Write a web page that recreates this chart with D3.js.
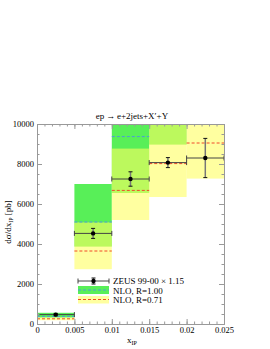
<!DOCTYPE html>
<html>
<head>
<meta charset="utf-8">
<script src="https://cdn.jsdelivr.net/npm/d3@7"></script>
<style>
  body { margin: 0; background: #fff; }
  text { font-family: "Liberation Serif", "DejaVu Serif", serif; }
</style>
</head>
<body>
<div id="chart"></div>
<script>
// ---- data ----
var binLo = [0, 0.005, 0.01, 0.015, 0.02];
var binHi = [0.005, 0.01, 0.015, 0.02, 0.025];

// ZEUS 99-00 x 1.15
var zeusVal = [470, 4530, 7250, 8070, 8300];
var zeusErr = [60, 250, 360, 250, 980];

// NLO R=1.00 (green band, blue line)
var nlo1Val = [380, 5100, 9370, 10600, 11800];
var nlo1Lo = [320, 3870, 6550, 8970, 10300];
var nlo1Hi = [560, 7000, 10800, 12000, 13500];

// NLO R=0.71 (yellow band, red line)
var nlo2Val = [260, 3650, 6680, 8020, 9050];
var nlo2Lo = [190, 2740, 5200, 6350, 7270];
var nlo2Hi = [330, 5080, 8770, 10400, 11200];

var xTicks = [0, 0.005, 0.01, 0.015, 0.02, 0.025];
var xTickLabels = ["0", "0.005", "0.01", "0.015", "0.02", "0.025"];
var yTicks = [0, 2000, 4000, 6000, 8000, 10000];

// ---- layout ----
var W = 270, H = 349;
var margin = {left: 37, right: 46, top: 124, bottom: 25};
var iw = W - margin.left - margin.right;
var ih = H - margin.top - margin.bottom;

var svg = d3.select("#chart").append("svg")
    .attr("width", W)
    .attr("height", H);

var x = d3.scaleLinear().domain([0, 0.025]).range([0, iw]);
var y = d3.scaleLinear().domain([0, 10000]).range([ih, 0]);

var g = svg.append("g")
    .attr("transform", "translate(" + margin.left + "," + margin.top + ")");

g.append("clipPath").attr("id", "clip")
    .append("rect").attr("width", iw).attr("height", ih);

var plot = g.append("g").attr("clip-path", "url(#clip)");

var green = "#58ef58";
var yellow = "#ffff60";
var yOpac = 0.6;

// green bands
plot.selectAll(".gband")
    .data(binLo)
    .enter().append("rect")
    .attr("class", "gband")
    .attr("x", (d, i) => x(binLo[i]))
    .attr("width", (d, i) => x(binHi[i]) - x(binLo[i]))
    .attr("y", (d, i) => y(nlo1Hi[i]))
    .attr("height", (d, i) => y(nlo1Lo[i]) - y(nlo1Hi[i]))
    .style("fill", green);

// yellow bands on top, partly see-through
plot.selectAll(".yband")
    .data(binLo)
    .enter().append("rect")
    .attr("class", "yband")
    .attr("x", (d, i) => x(binLo[i]))
    .attr("width", (d, i) => x(binHi[i]) - x(binLo[i]))
    .attr("y", (d, i) => y(nlo2Hi[i]))
    .attr("height", (d, i) => y(nlo2Lo[i]) - y(nlo2Hi[i]))
    .style("fill", yellow)
    .style("opacity", yOpac);

// central lines
plot.selectAll(".bline")
    .data(binLo)
    .enter().append("line")
    .attr("x1", (d, i) => x(binLo[i]))
    .attr("x2", (d, i) => x(binHi[i]))
    .attr("y1", (d, i) => y(nlo1Val[i]))
    .attr("y2", (d, i) => y(nlo1Val[i]))
    .style("stroke", "#4f9ad8")
    .style("stroke-width", 1)
    .style("stroke-dasharray", "3,2");

plot.selectAll(".rline")
    .data(binLo)
    .enter().append("line")
    .attr("x1", (d, i) => x(binLo[i]))
    .attr("x2", (d, i) => x(binHi[i]))
    .attr("y1", (d, i) => y(nlo2Val[i]))
    .attr("y2", (d, i) => y(nlo2Val[i]))
    .style("stroke", "#f04a2a")
    .style("stroke-width", 1)
    .style("stroke-dasharray", "3,2");

// ZEUS points
var pts = plot.selectAll(".pt")
    .data(zeusVal)
    .enter().append("g")
    .attr("class", "pt");

pts.append("line")
    .attr("x1", (d, i) => x(binLo[i]))
    .attr("x2", (d, i) => x(binHi[i]))
    .attr("y1", d => y(d))
    .attr("y2", d => y(d))
    .style("stroke", "#444")
    .style("stroke-width", 1);

pts.selectAll(".hcap")
    .data((d, i) => [[x(binLo[i]), y(d)], [x(binHi[i]), y(d)]])
    .enter().append("line")
    .attr("x1", d => d[0]).attr("x2", d => d[0])
    .attr("y1", d => d[1] - 2.5).attr("y2", d => d[1] + 2.5)
    .style("stroke", "#444");

pts.append("line")
    .attr("x1", (d, i) => x((binLo[i] + binHi[i]) / 2))
    .attr("x2", (d, i) => x((binLo[i] + binHi[i]) / 2))
    .attr("y1", (d, i) => y(d + zeusErr[i]))
    .attr("y2", (d, i) => y(d - zeusErr[i]))
    .style("stroke", "#777")
    .style("stroke-width", 1.5);

pts.selectAll(".vcap")
    .data((d, i) => [[x((binLo[i] + binHi[i]) / 2), y(d + zeusErr[i])],
                     [x((binLo[i] + binHi[i]) / 2), y(d - zeusErr[i])]])
    .enter().append("line")
    .attr("x1", d => d[0] - 2).attr("x2", d => d[0] + 2)
    .attr("y1", d => d[1]).attr("y2", d => d[1])
    .style("stroke", "#111");

pts.append("circle")
    .attr("cx", (d, i) => x((binLo[i] + binHi[i]) / 2))
    .attr("cy", d => y(d))
    .attr("r", 2.2)
    .style("fill", "#000");

// ---- axes ----
function styleAxis(sel) {
    sel.selectAll("path").style("stroke", "#999");
    sel.selectAll("line").style("stroke", "#999");
    sel.selectAll("text").style("font-size", "8.5px").style("fill", "#000")
        .style("font-family", "Liberation Serif");
}

var xMinor = d3.range(0, 0.0251, 0.001);
var yMinor = d3.range(0, 10001, 500);

g.append("g").attr("transform", "translate(0," + ih + ")")
    .call(d3.axisBottom(x).tickValues(xMinor).tickSize(-2.5).tickSizeOuter(0).tickFormat(""))
    .call(styleAxis);
g.append("g").attr("transform", "translate(0," + ih + ")")
    .call(d3.axisBottom(x).tickValues(xTicks).tickSize(-5).tickSizeOuter(0).tickPadding(3)
        .tickFormat((d, i) => xTickLabels[i]))
    .call(styleAxis);

g.append("g")
    .call(d3.axisTop(x).tickValues(xMinor).tickSize(-2.5).tickSizeOuter(0).tickFormat(""))
    .call(styleAxis);
g.append("g")
    .call(d3.axisTop(x).tickValues(xTicks).tickSize(-5).tickSizeOuter(0).tickFormat(""))
    .call(styleAxis);

g.append("g")
    .call(d3.axisLeft(y).tickValues(yMinor).tickSize(-2.5).tickSizeOuter(0).tickFormat(""))
    .call(styleAxis);
g.append("g")
    .call(d3.axisLeft(y).tickValues(yTicks).tickSize(-5).tickSizeOuter(0).tickPadding(3)
        .tickFormat(d3.format("d")))
    .call(styleAxis);

g.append("g").attr("transform", "translate(" + iw + ",0)")
    .call(d3.axisRight(y).tickValues(yMinor).tickSize(-2.5).tickSizeOuter(0).tickFormat(""))
    .call(styleAxis);
g.append("g").attr("transform", "translate(" + iw + ",0)")
    .call(d3.axisRight(y).tickValues(yTicks).tickSize(-5).tickSizeOuter(0).tickFormat(""))
    .call(styleAxis);

// ---- titles ----
svg.append("text")
    .attr("x", 132).attr("y", 119)
    .attr("text-anchor", "middle")
    .style("font-size", "9px")
    .text("ep\u2009\u2192\u2009e+2jets+X\u2032+Y");

var xl = svg.append("text")
    .attr("x", 127).attr("y", 343)
    .style("font-size", "9px");
xl.append("tspan").text("x");
xl.append("tspan").attr("dy", 2).style("font-size", "6px").text("IP");

var yl = svg.append("text")
    .attr("transform", "translate(11,222) rotate(-90)")
    .attr("text-anchor", "middle")
    .style("font-size", "9px");
yl.append("tspan").text("d\u03c3/dx");
yl.append("tspan").attr("dy", 2).style("font-size", "6px").text("IP");
yl.append("tspan").attr("dy", -2).text("  [pb]");

// ---- legend ----
var lx0 = 78, lx1 = 109, tx = 113;
var leg = svg.append("g");

// ZEUS entry
leg.append("line").attr("x1", lx0).attr("x2", lx1).attr("y1", 281).attr("y2", 281)
    .style("stroke", "#444");
leg.append("line").attr("x1", lx0).attr("x2", lx0).attr("y1", 278.5).attr("y2", 283.5).style("stroke", "#444");
leg.append("line").attr("x1", lx1).attr("x2", lx1).attr("y1", 278.5).attr("y2", 283.5).style("stroke", "#444");
leg.append("line").attr("x1", 93.5).attr("x2", 93.5).attr("y1", 278).attr("y2", 284).style("stroke", "#777").style("stroke-width", 1.5);
leg.append("line").attr("x1", 91.5).attr("x2", 95.5).attr("y1", 278).attr("y2", 278).style("stroke", "#111");
leg.append("line").attr("x1", 91.5).attr("x2", 95.5).attr("y1", 284).attr("y2", 284).style("stroke", "#111");
leg.append("circle").attr("cx", 93.5).attr("cy", 281).attr("r", 2.2).style("fill", "#000");

// NLO R=1.00
leg.append("rect").attr("x", lx0).attr("y", 286).attr("width", lx1 - lx0).attr("height", 8)
    .style("fill", green);
leg.append("line").attr("x1", lx0).attr("x2", lx1).attr("y1", 290).attr("y2", 290)
    .style("stroke", "#4f9ad8").style("stroke-dasharray", "3,2");

// NLO R=0.71
leg.append("rect").attr("x", lx0).attr("y", 296).attr("width", lx1 - lx0).attr("height", 7.5)
    .style("fill", yellow).style("opacity", yOpac);
leg.append("line").attr("x1", lx0).attr("x2", lx1).attr("y1", 299.5).attr("y2", 299.5)
    .style("stroke", "#f04a2a").style("stroke-dasharray", "3,2");

var legText = ["ZEUS 99-00 \u00d7 1.15", "NLO, R=1.00", "NLO, R=0.71"];
var legY = [284, 293.5, 303];
leg.selectAll(".lt")
    .data(legText)
    .enter().append("text")
    .attr("x", tx)
    .attr("y", (d, i) => legY[i])
    .style("font-size", "9px")
    .text(d => d);
</script>
</body>
</html>
